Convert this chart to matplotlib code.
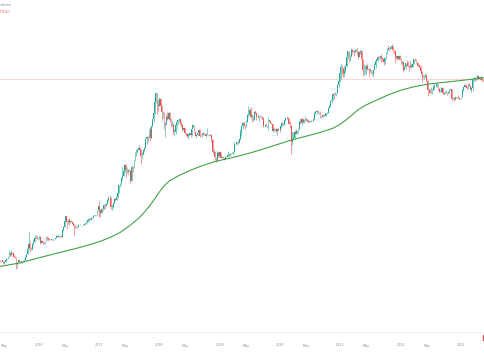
import matplotlib.pyplot as plt
import matplotlib.dates as mdates
from matplotlib.patches import Rectangle
import numpy as np
import pandas as pd

# Weekly BTC/USD candles, weeks starting Monday 2015-05-04
first_open = 238
closes = [
    # 2015
    240, 237, 240, 230, 223, 233, 246, 250, 270, 292, 274, 289, 282, 265, 261, 228, 229, 240,
    232, 231, 234, 240, 246, 264, 285, 325, 373, 331, 324, 372, 389, 434, 437, 422, 432,
    # 2016
    447, 381, 404, 379, 376, 400, 438, 433, 419, 414, 410, 417, 421, 422, 429, 459, 448,
    460, 456, 442, 530, 576, 673, 764, 660, 702, 650, 678, 655, 624, 589, 569, 582, 569,
    608, 608, 609, 602, 612, 616, 640, 657, 699, 703, 700, 730, 735, 765, 779, 790, 890, 998,
    # 2017
    910, 822, 921, 917, 1020, 998, 1050, 1180, 1230, 1235, 960, 970, 1080, 1200, 1180, 1250,
    1420, 1720, 1800, 2050, 2200, 2520, 2950, 2550, 2590, 2500, 2510, 1920, 2750, 2740, 3220,
    4060, 4090, 4360, 4600, 4330, 3700, 3780, 4370, 4610, 5700, 6010, 5900, 7370, 5950, 8000,
    9700, 11300, 15000, 19100, 14000, 13800,
    # 2018
    16200, 13600, 11600, 11700, 8200, 8500, 10300, 9600, 11400, 9500, 8200, 8500, 6900, 7000,
    8300, 8900, 9400, 9650, 8700, 8200, 7350, 7700, 6700, 6500, 6200, 6600, 6700, 6350, 7400,
    8200, 7000, 6300, 6400, 6700, 7300, 6200, 6500, 6700, 6600, 6600, 6300, 6450, 6400, 6400,
    6450, 5550, 4050, 4150, 3550, 3250, 4000, 3700, 4050,
    # 2019
    3500, 3600, 3500, 3450, 3620, 3620, 3800, 3820, 3910, 3990, 3990, 4100, 5050, 5080, 5300,
    5150, 5750, 7000, 8000, 8750, 8550, 8000, 9000, 10800, 10800, 12300, 10200, 10700, 9500,
    11800, 11400, 10300, 10150, 10400, 10400, 10300, 10050, 8100, 8150, 8300, 8200, 9550, 9200,
    8800, 8500, 7050, 7550, 7500, 7100, 7500, 7380, 7350,
    # 2020
    8100, 8700, 8350, 9350, 9900, 9900, 9650, 8550, 8000, 5350, 5800, 5900, 6850, 6650, 7100,
    7550, 8900, 8750, 9650, 8900, 9450, 9650, 9350, 9300, 9000, 9250, 9300, 9200, 9700, 11050,
    11700, 11900, 11650, 11700, 10250, 10330, 10900, 10750, 10650, 11400, 11500, 13050, 13800,
    15500, 16050, 18700, 18200, 19000, 19250, 23850, 26250, 32200,
    # 2021
    38200, 36000, 32300, 34300, 39200, 48600, 57400, 45200, 51200, 59000, 57500, 55800, 57000,
    59800, 56200, 49000, 56600, 58300, 46400, 34700, 35600, 35800, 39100, 35600, 34700, 35300,
    34300, 31800, 35400, 39900, 44600, 47100, 49300, 48900, 49900, 48300, 47300, 42800, 48200,
    54900, 61500, 60900, 61300, 63300, 65500, 59700, 57200, 49400, 50100, 46700, 50800, 46300,
    # 2022
    41800, 43100, 35100, 37900, 42400, 42200, 38400, 37700, 38400, 37800, 41300, 46800, 46400,
    42200, 40400, 39500, 37700, 34100, 31300, 29400, 29400, 29900, 26600, 20600, 21000, 19300,
    20800, 20800, 22600, 23300, 23200, 24300, 21500, 19600, 19800, 21800, 19400, 18900, 19300,
    19400, 19200, 19600, 20600, 21300, 16300, 16700, 16400, 17100, 17100, 16800, 16800, 16600,
    # 2023
    17100, 20900, 22700, 23700, 23000, 21800, 24600, 23200, 20600, 22100, 27900, 27800, 28200,
    28300, 30300, 27800, 29200, 28900, 26800, 26700, 28100, 27600,
]
highs = [
    # 2015
    246, 244, 242, 241, 231, 236, 253, 251, 273, 315, 293, 313, 298, 284, 269, 266, 232, 242,
    245, 234, 236, 241, 247, 270, 287, 335, 502, 390, 338, 375, 420, 466, 465, 459, 437,
    # 2016
    459, 450, 410, 400, 394, 403, 441, 446, 440, 418, 420, 420, 426, 425, 432, 462, 466,
    465, 460, 460, 535, 590, 700, 780, 700, 705, 705, 680, 680, 660, 630, 600, 590, 590,
    615, 630, 612, 612, 616, 620, 642, 660, 710, 740, 725, 752, 745, 768, 780, 792, 910, 1000,
    # 2017
    1150, 915, 935, 930, 1045, 1070, 1060, 1200, 1290, 1330, 1260, 1060, 1100, 1215, 1220, 1260,
    1430, 1740, 1840, 2120, 2760, 2540, 3000, 2980, 2800, 2590, 2630, 2540, 2890, 2830, 3290,
    4150, 4480, 4470, 4980, 4700, 4380, 4120, 4400, 4620, 5850, 6180, 6180, 7600, 7880, 8100,
    9800, 11800, 16500, 19700, 19300, 16500,
    # 2018
    17250, 17000, 14100, 12000, 11800, 9000, 11000, 11800, 11700, 11600, 9950, 9180, 8500, 7500,
    8450, 9000, 9750, 9990, 9650, 8880, 8420, 7800, 7760, 6850, 6800, 6650, 6900, 6800, 7580,
    8500, 8250, 7150, 6600, 6800, 7400, 7400, 6600, 6800, 6800, 6700, 6680, 7600, 6550, 6480,
    6600, 6500, 5700, 4450, 4200, 3600, 4200, 4250, 4100,
    # 2019
    4100, 3700, 3650, 3520, 3700, 3720, 4200, 3900, 3950, 4000, 4080, 4130, 5350, 5450, 5380,
    5650, 5850, 7450, 8300, 8950, 9100, 8250, 9350, 11200, 13800, 12900, 13200, 11100, 10650,
    12000, 12300, 11500, 10950, 10500, 10900, 10450, 10350, 10100, 8500, 8800, 8400, 10350, 9500,
    9400, 8800, 8500, 7850, 7750, 7450, 7600, 7650, 7500,
    # 2020
    8450, 9200, 8800, 9550, 10150, 10500, 10250, 9950, 9200, 8200, 6950, 6950, 7200, 7450, 7200,
    7780, 9450, 10000, 9950, 9850, 9750, 10400, 9990, 9600, 9800, 9400, 9480, 9300, 10000, 12000,
    11900, 12100, 12450, 11800, 12100, 10600, 11150, 10950, 10950, 11500, 11750, 13250, 14100,
    15950, 16500, 18900, 19450, 19900, 19400, 24300, 28400, 34800,
    # 2021
    41900, 40100, 37800, 38600, 40900, 49700, 58300, 57500, 52600, 61700, 60600, 58400, 60200,
    61300, 64800, 57500, 57900, 59500, 59600, 46600, 40800, 39500, 41300, 41300, 36600, 36600,
    35100, 34000, 35400, 42600, 45300, 48100, 50500, 50000, 51000, 52900, 48800, 45500, 49300,
    56600, 62900, 67000, 63700, 64300, 69000, 66300, 59300, 59000, 51900, 50500, 52000, 52100,
    # 2022
    47500, 44400, 43400, 38900, 42600, 45800, 44700, 40000, 45400, 42300, 42300, 46900, 48200,
    47000, 41500, 42900, 40800, 39900, 34300, 30800, 30400, 32400, 31700, 26900, 21900, 21500,
    22500, 21100, 24200, 24600, 23700, 25200, 24400, 21800, 20600, 22800, 22700, 19900, 20400,
    20500, 19900, 19700, 21000, 21500, 21400, 17200, 16800, 17400, 17400, 18400, 17000, 16900,
    # 2023
    17200, 21400, 23300, 23900, 24200, 23300, 25200, 25100, 23900, 22300, 28400, 28900, 29200,
    28800, 31000, 30500, 30000, 29800, 28300, 27600, 28300, 28400,
]
lows = [
    # 2015
    233, 233, 234, 228, 220, 220, 230, 240, 249, 266, 270, 272, 280, 256, 258, 190, 198, 226,
    228, 222, 225, 234, 235, 245, 262, 282, 320, 302, 313, 318, 355, 388, 429, 418, 415,
    # 2016
    425, 365, 375, 365, 365, 372, 400, 405, 398, 405, 408, 405, 412, 415, 420, 428, 440,
    445, 446, 438, 440, 525, 570, 650, 550, 615, 600, 640, 645, 620, 470, 565, 565, 565,
    570, 600, 605, 592, 600, 607, 612, 630, 655, 680, 685, 700, 725, 730, 760, 770, 790, 880,
    # 2017
    750, 750, 820, 880, 915, 930, 990, 1040, 1150, 990, 930, 890, 950, 1070, 1150, 1160,
    1240, 1420, 1620, 1750, 1960, 2180, 2450, 2150, 2350, 2300, 2420, 1830, 1900, 2420, 2670,
    3250, 3690, 3980, 4300, 3960, 2970, 3510, 3850, 4110, 4580, 5110, 5370, 5950, 5500, 5860,
    7940, 8900, 11000, 14600, 11200, 12000,
    # 2018
    13700, 12750, 9400, 10000, 7500, 6000, 8200, 9350, 9400, 8900, 7800, 8000, 6600, 6450,
    6600, 7800, 8600, 9100, 8400, 7950, 7050, 7100, 6620, 6150, 6080, 5800, 6300, 6100, 6300,
    7800, 6900, 6200, 5900, 6250, 6700, 6100, 6150, 6100, 6400, 6450, 6100, 6350, 6350, 6250,
    6300, 5300, 3900, 3750, 3300, 3150, 3200, 3550, 3600,
    # 2019
    3500, 3480, 3400, 3350, 3400, 3560, 3600, 3700, 3700, 3840, 3920, 3910, 4080, 4900, 5040,
    5000, 5130, 5650, 6200, 7550, 8000, 7450, 7800, 8900, 10300, 10800, 10000, 9100, 9200,
    9500, 11200, 9500, 9900, 9300, 10250, 9950, 9650, 7800, 7900, 8000, 7900, 7300, 8900,
    8650, 8450, 6850, 7100, 7100, 6950, 6450, 7150, 6900,
    # 2020
    7700, 8050, 8250, 8300, 9150, 9700, 9450, 8500, 7650, 3850, 4900, 5700, 5850, 6750, 6500,
    6800, 7500, 8550, 8250, 8800, 8650, 9250, 9150, 9200, 8850, 8950, 9050, 9100, 9150, 9600,
    11050, 11150, 11500, 11100, 9900, 9900, 10200, 10150, 10450, 10550, 11200, 11400, 12950,
    13300, 14800, 15850, 16300, 18000, 17600, 19000, 22400, 25800,
    # 2021
    28000, 30400, 28800, 29300, 32300, 37900, 46300, 43000, 44900, 49200, 53400, 50500, 55300,
    55500, 51500, 47200, 52400, 53000, 43800, 30000, 31000, 31300, 31100, 34900, 28800, 32700,
    32100, 31000, 29300, 34800, 37400, 43800, 43900, 46300, 46500, 43000, 44700, 39600, 40800,
    47000, 53900, 59500, 58000, 60000, 62300, 55600, 53300, 42000, 46800, 45500, 45600, 45700,
    # 2022
    40500, 39700, 33000, 35500, 36300, 41700, 38000, 34300, 37200, 37200, 37600, 40800, 44300,
    42100, 39200, 38200, 37600, 33700, 25400, 28700, 28000, 29300, 26600, 17600, 19700, 18700,
    19000, 18900, 20800, 20700, 22500, 22700, 20800, 19600, 19600, 19600, 19400, 18200, 18500,
    19100, 18200, 18900, 19300, 20100, 15700, 16200, 15500, 16000, 16700, 16300, 16500, 16300,
    # 2023
    16500, 17300, 20400, 22300, 22700, 21400, 21500, 22800, 21900, 19600, 20200, 26600, 26600,
    27200, 28000, 27100, 27100, 27700, 25800, 26400, 25900, 27400,
]

# 200-week moving average
ma_dates = ['2015-05-12', '2015-09-10', '2016-01-09', '2016-05-09', '2016-09-07', '2017-01-06',
            '2017-03-08', '2017-05-08', '2017-07-07', '2017-09-06', '2017-10-06', '2017-11-05',
            '2017-12-05', '2018-01-05', '2018-02-04', '2018-03-06', '2018-05-06', '2018-07-05',
            '2018-09-04', '2018-12-04', '2019-04-04', '2019-07-04', '2019-10-02', '2020-03-02',
            '2020-06-01', '2020-08-30', '2020-11-17', '2020-12-29', '2021-02-04', '2021-03-12',
            '2021-04-17', '2021-05-30', '2021-08-10', '2021-10-16', '2021-12-28', '2022-03-16',
            '2022-06-09', '2022-08-15', '2022-10-26', '2023-02-06', '2023-05-26']
ma_values = [205, 225, 259, 296, 337, 394, 438, 498, 599, 749, 865, 1011, 1214, 1477, 1729,
             1944, 2245, 2526, 2804, 3196, 3595, 3995, 4494, 5540, 6149, 6826, 7622, 8420, 9466,
             10794, 12299, 13838, 15977, 18213, 20490, 22460, 24090, 24940, 25790, 27110, 28640]

x_labels = ['May', '2016', 'May', '2017', 'May', '2018', 'May', '2019', 'May', '2020',
            'May', '2021', 'May', '2022', 'May', '2023', 'May']
x_label_dates = ['2015-06-08', '2016-01-01', '2016-06-08', '2017-01-01', '2017-06-08',
                 '2018-01-01', '2018-06-08', '2019-01-01', '2019-06-08', '2020-01-01',
                 '2020-06-08', '2021-01-01', '2021-06-08', '2022-01-01', '2022-06-08',
                 '2023-01-01', '2023-06-08']

UP = '#26a69a'
DOWN = '#ef5350'
X0, X1 = pd.Timestamp('2015-05-12'), pd.Timestamp('2023-05-27')

weeks = pd.date_range('2015-05-04', periods=len(closes), freq='W-MON')
c = np.array(closes, dtype=float)
o = np.concatenate([[first_open], c[:-1]])
h = np.array(highs, dtype=float)
l = np.array(lows, dtype=float)
colors = np.where(c >= o, UP, DOWN)

fig = plt.figure(figsize=(4.85, 3.6), dpi=100)
ax = fig.add_axes([0, 1 - 332 / 360, 1, 332 / 360])

ax.vlines(weeks, l, h, colors=colors, linewidth=0.4, zorder=2)
body_lo = np.minimum(o, c)
body_hi = np.maximum(np.maximum(o, c), body_lo * 1.004)
ax.bar(weeks, body_hi - body_lo, bottom=body_lo, width=5, color=colors,
       linewidth=0, zorder=3)

ax.plot(pd.to_datetime(ma_dates), ma_values, color='#43a047', linewidth=0.8, zorder=4)

# last price line
ax.axhline(c[-1], color=DOWN, linewidth=0.5, alpha=0.35, zorder=1)

ax.set_yscale('log')
ax.set_ylim(36.9, 218800)
ax.set_xlim(X0, X1)
ax.axis('off')

span = mdates.date2num(X1) - mdates.date2num(X0)
for lab, d in zip(x_labels, x_label_dates):
    xf = (mdates.date2num(pd.Timestamp(d)) - mdates.date2num(X0)) / span
    fig.text(xf, 1 - 345.5 / 360, lab, ha='center', va='center', fontsize=2.4,
             color='#8a8d96')

# bottom border of pane
fig.add_artist(plt.Line2D([0, 1], [1 - 332 / 360, 1 - 332 / 360], color='#eeeeee',
                          linewidth=0.6))

# legend snippets (cut off at the left edge, as in the screenshot)
fig.text(11 / 485, 1 - 4.6 / 360, 'Bitcoin / U.S. Dollar · 1W · Coinbase', ha='right',
         va='center', fontsize=2.8, color='#8a8d96')
fig.text(9.5 / 485, 1 - 12 / 360, '−492.56 (−1.75%)', ha='right', va='center',
         fontsize=2.8, color=DOWN)

fig.add_artist(Rectangle((483 / 485, 1 - 340 / 360), 3 / 485, 5 / 360, color=DOWN,
                         transform=fig.transFigure))

fig.savefig('out.png', dpi=100, facecolor='white')
